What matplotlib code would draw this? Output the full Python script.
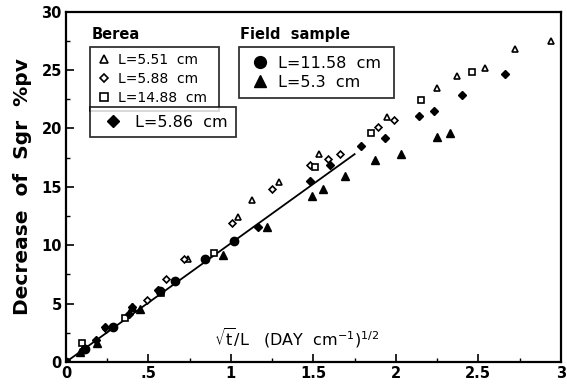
import matplotlib
matplotlib.use('Agg')
import matplotlib.pyplot as plt
from matplotlib.lines import Line2D
import numpy as np

# Berea samples
tri_551_x = [0.738, 1.044, 1.127, 1.29, 1.537, 1.945, 2.25, 2.37, 2.54, 2.72, 2.94]
tri_551_y = [8.86, 12.4, 13.9, 15.4, 17.8, 21.0, 23.5, 24.5, 25.2, 26.8, 27.5]
dia_588_x = [0.245, 0.49, 0.604, 0.718, 1.006, 1.25, 1.48, 1.59, 1.66, 1.89, 1.99]
dia_588_y = [2.8, 5.3, 7.15, 8.86, 11.9, 14.8, 16.9, 17.4, 17.8, 20.1, 20.7]
sq_1488_x = [0.10, 0.356, 0.578, 0.90, 1.51, 1.85, 2.15, 2.46]
sq_1488_y = [1.6, 3.73, 5.87, 9.34, 16.7, 19.6, 22.4, 24.8]
fdia_586_x = [0.105, 0.18, 0.235, 0.38, 0.40, 0.56, 1.163, 1.48, 1.60, 1.79, 1.935, 2.14, 2.23, 2.40, 2.66]
fdia_586_y = [1.0, 1.9, 3.0, 4.1, 4.7, 6.2, 11.6, 15.5, 16.9, 18.5, 19.2, 21.1, 21.5, 22.9, 24.7]

# Field samples
circ_1158_x = [0.0, 0.115, 0.285, 0.57, 0.66, 0.84, 1.016]
circ_1158_y = [0.0, 1.1, 3.0, 6.1, 6.9, 8.8, 10.4]
ftri_53_x = [0.085, 0.19, 0.40, 0.447, 0.955, 1.22, 1.49, 1.56, 1.69, 1.875, 2.03, 2.25, 2.33]
ftri_53_y = [0.88, 1.6, 4.7, 4.5, 9.15, 11.6, 14.2, 14.8, 15.9, 17.3, 17.8, 19.3, 19.6]

# fitted line
fit_x = [0.0, 1.75]
fit_y = [0.0, 17.8]

xticks = [0, 0.5, 1, 1.5, 2, 2.5, 3]
xticklabels = ['0', '.5', '1', '1.5', '2', '2.5', '3']
yticks = [0, 5, 10, 15, 20, 25, 30]

plt.rcParams['font.family'] = ['DejaVu Sans']

fig = plt.figure(figsize=(5.67, 3.84), dpi=100)
ax = fig.add_axes([0.1164, 0.0573, 0.8726, 0.9122])

ax.plot(fit_x, fit_y, color='black', lw=1.3, zorder=2)

open_kw = dict(linestyle='none', markerfacecolor='white', markeredgecolor='black', markeredgewidth=1.2, zorder=3)
fill_kw = dict(linestyle='none', color='black', zorder=3)
ax.plot(tri_551_x, tri_551_y, marker='^', markersize=5, **open_kw)
ax.plot(dia_588_x, dia_588_y, marker='D', markersize=3.5, **open_kw)
ax.plot(sq_1488_x, sq_1488_y, marker='s', markersize=5, **open_kw)
ax.plot(fdia_586_x, fdia_586_y, marker='D', markersize=4.5, **fill_kw)
ax.plot(circ_1158_x, circ_1158_y, marker='o', markersize=6, **fill_kw)
ax.plot(ftri_53_x, ftri_53_y, marker='^', markersize=6, **fill_kw)

ax.set_xlim(0, 3)
ax.set_ylim(0, 30)
ax.set_xticks(xticks)
ax.set_xticklabels(xticklabels)
ax.set_yticks(yticks)
ax.set_xticks(np.arange(0, 3.01, 0.25), minor=True)
ax.set_yticks(np.arange(0, 30.1, 2.5), minor=True)
ax.tick_params(which='major', direction='in', length=6, width=1.2, labelsize=10.5, pad=3)
ax.tick_params(which='minor', direction='in', length=3, width=1.0)
for lab in ax.get_xticklabels() + ax.get_yticklabels():
    lab.set_fontweight('bold')
for s in ax.spines.values():
    s.set_linewidth(1.6)

ax.set_ylabel('Decrease  of  Sgr  %pv', fontsize=14.5, fontweight='bold', labelpad=7)
ax.text(0.30, 0.068, r'$\sqrt{\rm t}$/L   (DAY  cm$^{-1}$)$^{1/2}$', transform=ax.transAxes,
        fontsize=11.5, ha='left', va='center')

ax.text(0.052, 0.935, 'Berea', transform=ax.transAxes, fontsize=10.5, fontweight='bold', va='center')
ax.text(0.352, 0.935, 'Field  sample', transform=ax.transAxes, fontsize=10.5, fontweight='bold', va='center')

leg_kw = dict(loc='upper left', frameon=True, fancybox=False, edgecolor='black', mode='expand',
              borderaxespad=0, handletextpad=0.4)

h1 = [Line2D([], [], marker='^', markersize=6, **open_kw),
      Line2D([], [], marker='D', markersize=4.5, **open_kw),
      Line2D([], [], marker='s', markersize=6, **open_kw)]
leg1 = ax.legend(h1, ['L=5.51  cm', 'L=5.88  cm', 'L=14.88  cm'], bbox_to_anchor=(0.048, 0.90, 0.261, 0),
                 fontsize=10, borderpad=0.45, handlelength=1.2, labelspacing=0.35, **leg_kw)
leg1.get_frame().set_linewidth(1.3)
ax.add_artist(leg1)

h2 = [Line2D([], [], marker='D', markersize=6.5, **fill_kw)]
leg2 = ax.legend(h2, ['L=5.86  cm'], bbox_to_anchor=(0.048, 0.727, 0.295, 0), fontsize=11.5,
                 borderpad=0.45, handlelength=2.0, **leg_kw)
leg2.get_frame().set_linewidth(1.3)
ax.add_artist(leg2)

h3 = [Line2D([], [], marker='o', markersize=8.5, **fill_kw),
      Line2D([], [], marker='^', markersize=8.5, **fill_kw)]
leg3 = ax.legend(h3, ['L=11.58  cm', 'L=5.3  cm'], bbox_to_anchor=(0.35, 0.90, 0.313, 0), fontsize=11.5,
                 borderpad=0.55, handlelength=1.5, labelspacing=0.25, **leg_kw)
leg3.get_frame().set_linewidth(1.3)

fig.savefig('out.png', dpi=100)
